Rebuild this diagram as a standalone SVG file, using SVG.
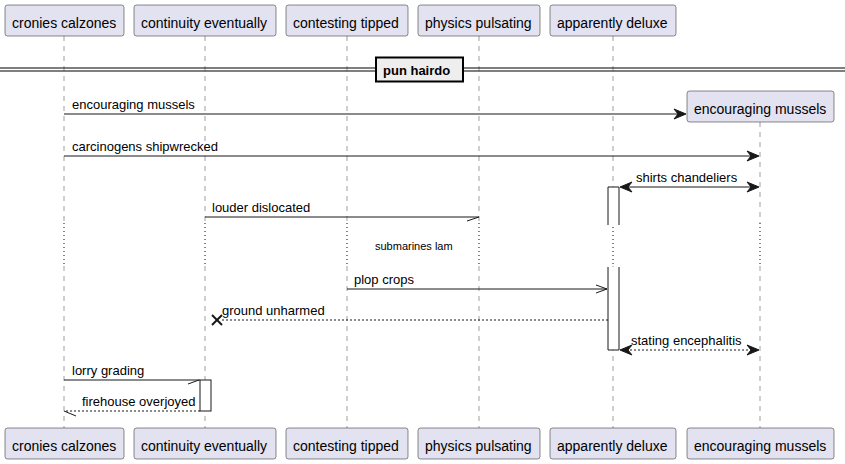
<svg xmlns="http://www.w3.org/2000/svg" width="845" height="464" viewBox="0 0 845 464">
<style>
.pbox{fill:#E2E2F0;stroke:#181818;stroke-width:0.5}
.ptxt{font-family:"Liberation Sans",Arial,sans-serif;font-size:14px;fill:#000}
.mtxt{font-family:"Liberation Sans",Arial,sans-serif;font-size:13px;fill:#000}
.life{stroke:#181818;stroke-opacity:0.7;stroke-width:0.6;stroke-dasharray:5,5;fill:none}
.delay{stroke:#990033;stroke-width:1.2;stroke-dasharray:1,3;fill:none}
.msg{stroke:#181818;stroke-width:1;fill:none}
.dash{stroke:#181818;stroke-width:1;fill:none;stroke-dasharray:2,2}
.head{fill:#181818;stroke:#181818;stroke-width:1}
.act{fill:#FFFFFF;stroke:#181818;stroke-width:1}
</style>
<rect width="845" height="464" fill="#FFFFFF"/>
<g id="lifelines">
<line class="life" x1="64" y1="36" x2="64" y2="223"/><line class="delay" x1="64" y1="223" x2="64" y2="266"/><line class="life" x1="64" y1="266" x2="64" y2="428"/>
<line class="life" x1="205" y1="36" x2="205" y2="223"/><line class="delay" x1="205" y1="223" x2="205" y2="266"/><line class="life" x1="205" y1="266" x2="205" y2="428"/>
<line class="life" x1="347" y1="36" x2="347" y2="223"/><line class="delay" x1="347" y1="223" x2="347" y2="266"/><line class="life" x1="347" y1="266" x2="347" y2="428"/>
<line class="life" x1="479" y1="36" x2="479" y2="223"/><line class="delay" x1="479" y1="223" x2="479" y2="266"/><line class="life" x1="479" y1="266" x2="479" y2="428"/>
<line class="life" x1="613" y1="36" x2="613" y2="223"/><line class="delay" x1="613" y1="223" x2="613" y2="266"/><line class="life" x1="613" y1="266" x2="613" y2="428"/>
<line class="life" x1="760" y1="122" x2="760" y2="223"/><line class="delay" x1="760" y1="223" x2="760" y2="266"/><line class="life" x1="760" y1="266" x2="760" y2="428"/>
</g>
<g id="divider">
<line x1="0" y1="68" x2="845" y2="68" stroke="#000" stroke-width="1.2"/>
<line x1="0" y1="71" x2="845" y2="71" stroke="#000" stroke-width="1.2"/>
<rect x="376" y="57.5" width="87" height="24" fill="#EEEEEE" stroke="#000" stroke-width="2"/>
<text x="383" y="75" font-family="'Liberation Sans',Arial,sans-serif" font-size="13" font-weight="bold">pun hairdo</text>
</g>
<g id="activations">
<path class="act" d="M608,225 L608,187 L619,187 L619,225"/>
<path class="act" d="M608,267 L608,350 L619,350 L619,267"/>
<rect class="act" x="200" y="380" width="11" height="31"/>
</g>
<g id="delay">
<text x="375" y="250" font-family="'Liberation Sans',Arial,sans-serif" font-size="11">submarines lam</text>
</g>
<g id="p1"><rect class="pbox" x="5" y="5" width="119" height="31" rx="2.5"/><text class="ptxt" x="12" y="28">cronies calzones</text>
<rect class="pbox" x="5" y="428" width="119" height="31" rx="2.5"/><text class="ptxt" x="12" y="451">cronies calzones</text></g>
<g id="p2"><rect class="pbox" x="134" y="5" width="142" height="31" rx="2.5"/><text class="ptxt" x="141" y="28">continuity eventually</text>
<rect class="pbox" x="134" y="428" width="142" height="31" rx="2.5"/><text class="ptxt" x="141" y="451">continuity eventually</text></g>
<g id="p3"><rect class="pbox" x="286" y="5" width="122" height="31" rx="2.5"/><text class="ptxt" x="293" y="28">contesting tipped</text>
<rect class="pbox" x="286" y="428" width="122" height="31" rx="2.5"/><text class="ptxt" x="293" y="451">contesting tipped</text></g>
<g id="p4"><rect class="pbox" x="418" y="5" width="122" height="31" rx="2.5"/><text class="ptxt" x="425" y="28">physics pulsating</text>
<rect class="pbox" x="418" y="428" width="122" height="31" rx="2.5"/><text class="ptxt" x="425" y="451">physics pulsating</text></g>
<g id="p5"><rect class="pbox" x="550" y="5" width="126" height="31" rx="2.5"/><text class="ptxt" x="557" y="28">apparently deluxe</text>
<rect class="pbox" x="550" y="428" width="126" height="31" rx="2.5"/><text class="ptxt" x="557" y="451">apparently deluxe</text></g>
<g id="p6"><rect class="pbox" x="687" y="91" width="147" height="31" rx="2.5"/><text class="ptxt" x="694" y="114">encouraging mussels</text>
<rect class="pbox" x="687" y="428" width="147" height="31" rx="2.5"/><text class="ptxt" x="694" y="451">encouraging mussels</text></g>
<g id="connectors">
<line class="msg" x1="64" y1="114" x2="684" y2="114"/>
<polygon class="head" points="686,114 674,109 678,114 674,119"/>
<text class="mtxt" x="72" y="109">encouraging mussels</text>

<line class="msg" x1="64" y1="156" x2="757" y2="156"/>
<polygon class="head" points="759,156 747,151 751,156 747,161"/>
<text class="mtxt" x="72" y="151">carcinogens shipwrecked</text>

<line class="msg" x1="622" y1="187" x2="757" y2="187"/>
<polygon class="head" points="620,187 632,182 628,187 632,192"/>
<polygon class="head" points="759,187 747,182 751,187 747,192"/>
<text class="mtxt" x="636" y="182">shirts chandeliers</text>

<line class="msg" x1="205" y1="217" x2="479" y2="217"/>
<line class="msg" x1="467" y1="221" x2="479" y2="217"/>
<text class="mtxt" x="212" y="212">louder dislocated</text>

<line class="msg" x1="347" y1="289" x2="607" y2="289"/>
<polyline class="msg" points="596,285 607,289 596,293"/>
<text class="mtxt" x="354" y="284">plop crops</text>

<line class="dash" x1="608" y1="320" x2="220" y2="320"/>
<line x1="212" y1="315" x2="222" y2="325" stroke="#181818" stroke-width="2"/>
<line x1="212" y1="325" x2="222" y2="315" stroke="#181818" stroke-width="2"/>
<text class="mtxt" x="222" y="315">ground unharmed</text>

<line class="dash" x1="622" y1="350" x2="757" y2="350"/>
<polygon class="head" points="620,350 632,345 628,350 632,355"/>
<polygon class="head" points="759,350 747,345 751,350 747,355"/>
<text class="mtxt" x="631" y="345">stating encephalitis</text>

<line class="msg" x1="64" y1="380" x2="200" y2="380"/>
<line class="msg" x1="188" y1="384" x2="199" y2="380"/>
<text class="mtxt" x="72" y="375">lorry grading</text>

<line class="dash" x1="200" y1="411" x2="64" y2="411"/>
<line class="msg" x1="64" y1="411" x2="76" y2="416"/>
<text class="mtxt" x="82" y="406">firehouse overjoyed</text>
</g>
</svg>
